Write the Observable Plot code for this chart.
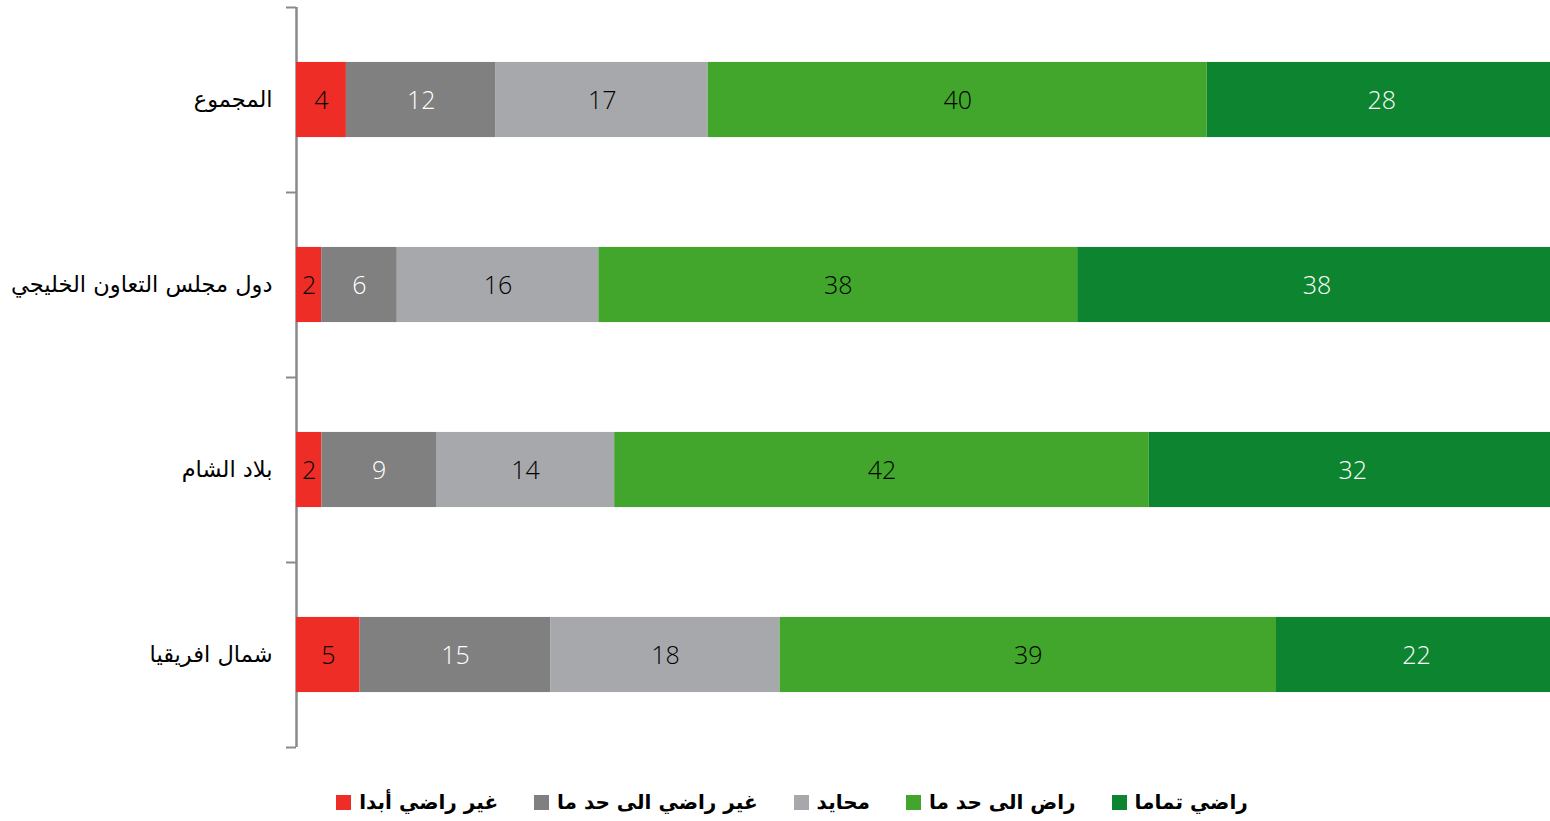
<!DOCTYPE html>
<html>
<head>
<meta charset="utf-8">
<script src="https://cdn.jsdelivr.net/npm/d3@7"></script>
<script src="https://cdn.jsdelivr.net/npm/@observablehq/plot@0.6"></script>
<style>
  html, body { margin: 0; padding: 0; background: #fff; overflow: hidden; width: 1550px; }
  #chart svg { display: block; overflow: hidden; }
  #legend { display: flex; justify-content: center; align-items: center; gap: 36px;
    padding-left: 34px; margin-top: 20px; font-family: "DejaVu Sans", sans-serif;
    font-size: 20px; font-weight: bold; color: #000; }
  .item { display: flex; align-items: center; gap: 8px; }
  .sw { width: 15px; height: 15px; display: inline-block; }
</style>
</head>
<body>
<div id="chart"></div>
<div id="legend"></div>
<script>
const categories = ["المجموع", "دول مجلس التعاون الخليجي", "بلاد الشام", "شمال افريقيا"];
const seriesNames = ["غير راضي أبدا", "غير راضي الى حد ما", "محايد", "راض الى حد ما", "راضي تماما"];
const seriesColors = ["#EE2E26", "#808080", "#A7A8AB", "#41A62B", "#0D8530"];
const labelColors = ["#000", "#fff", "#000", "#000", "#fff"];
const notAtAll = [4, 2, 2, 5];
const somewhatNot = [12, 6, 9, 15];
const neutral = [17, 16, 14, 18];
const somewhat = [40, 38, 42, 39];
const fully = [28, 38, 32, 22];
const seriesValues = [notAtAll, somewhatNot, neutral, somewhat, fully];
const yTicks = [0, 1, 2, 3, 4];

const rows = [];
categories.forEach((cat, i) => {
  seriesNames.forEach((s, j) => {
    rows.push({cat, i, series: s, j, value: seriesValues[j][i]});
  });
});

const chart = Plot.plot({
  width: 1550,
  height: 770,
  marginTop: 7,
  marginBottom: 23,
  marginLeft: 296,
  marginRight: 0,
  x: {domain: [0, 1], range: [296, 1556], axis: null},
  y: {domain: [0, 4], range: [7, 747], axis: null},
  color: {domain: seriesNames, range: seriesColors},
  style: {fontFamily: "'Open Sans', 'DejaVu Sans', sans-serif", background: "#fff"},
  marks: [
    Plot.ruleX([0], {stroke: "#8a8a8a", strokeWidth: 2.5}),
    Plot.axisY(yTicks, {anchor: "left", tickSize: 10, tickFormat: () => "", stroke: "#8a8a8a", strokeWidth: 2}),
    Plot.rectX(rows, Plot.stackX({
      x: "value", y1: d => d.i + 0.297, y2: d => d.i + 0.703,
      z: "series", order: seriesNames, offset: "normalize", fill: "series"
    })),
    Plot.text(rows, Plot.stackX({
      x: "value", y: d => d.i + 0.5, z: "series", order: seriesNames, offset: "normalize",
      text: d => String(d.value), fill: d => labelColors[d.j],
      fontSize: 25, fontWeight: 300, dy: 1
    })),
    Plot.text(categories, {
      x: 0, y: (d, i) => i + 0.5, text: d => d, textAnchor: "end", dx: -24,
      fontSize: 22.5, fill: "#000", fontFamily: "'DejaVu Sans', sans-serif"
    })
  ]
});
document.getElementById("chart").appendChild(chart);

const legend = document.getElementById("legend");
seriesNames.forEach((s, j) => {
  const it = document.createElement("div");
  it.className = "item";
  const sw = document.createElement("span");
  sw.className = "sw";
  sw.style.background = seriesColors[j];
  const tx = document.createElement("span");
  tx.textContent = s;
  tx.dir = "rtl";
  it.appendChild(sw);
  it.appendChild(tx);
  legend.appendChild(it);
});
</script>
</body>
</html>
